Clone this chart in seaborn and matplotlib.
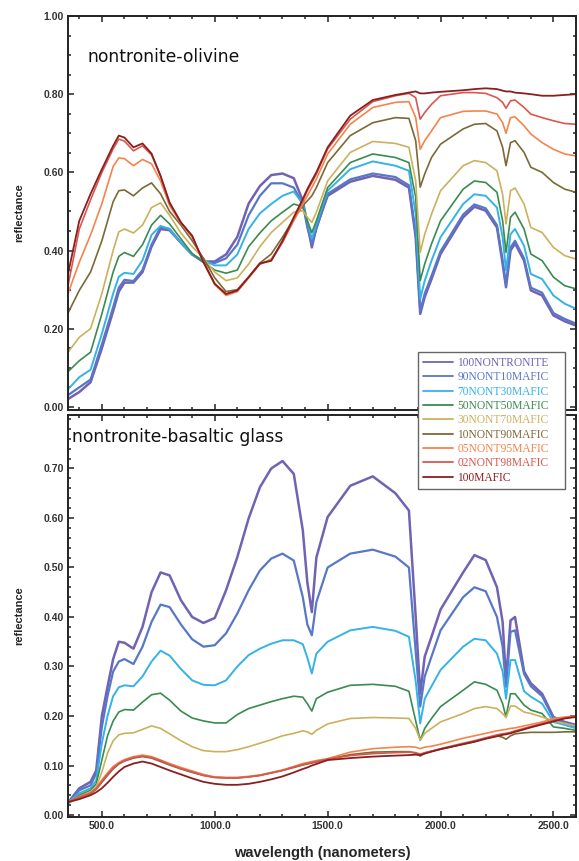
import numpy as np
import pandas as pd
import seaborn as sns
import matplotlib.pyplot as plt
from matplotlib.ticker import MultipleLocator, FormatStrFormatter

# Inputs ---------------------------------------
samples = ['100NONTRONITE', '90NONT10MAFIC', '70NONT30MAFIC', '50NONT50MAFIC',
           '30NONT70MAFIC', '10NONT90MAFIC', '05NONT95MAFIC', '02NONT98MAFIC',
           '100MAFIC']
colours = ['#7262b3', '#5877c6', '#35b2e6', '#3a8b50', '#cbb15e',
           '#7b6a36', '#f4844c', '#d9574f', '#8a1f1f']
widths = [1.8, 1.6, 1.4, 1.2, 1.2, 1.2, 1.2, 1.2, 1.3]

# nontronite-olivine panel
wl_olivine = [350, 400, 450, 500, 550, 575, 600, 640, 680, 720, 760, 800, 850, 900,
              950, 1000, 1050, 1100, 1150, 1200, 1250, 1300, 1350, 1390, 1410, 1430,
              1450, 1500, 1600, 1700, 1800, 1860, 1890, 1910, 1930, 1960, 2000, 2100,
              2150, 2200, 2250, 2275, 2290, 2310, 2330, 2370, 2400, 2450, 2500, 2550,
              2600]
olv_100nont = [0.02, 0.038, 0.063, 0.15, 0.245, 0.295, 0.318, 0.318, 0.345, 0.41,
               0.455, 0.452, 0.42, 0.39, 0.372, 0.372, 0.39, 0.435, 0.52, 0.565,
               0.593, 0.597, 0.585, 0.527, 0.468, 0.408, 0.459, 0.54, 0.576, 0.591,
               0.581, 0.561, 0.434, 0.238, 0.281, 0.327, 0.391, 0.485, 0.512, 0.502,
               0.459, 0.366, 0.306, 0.40, 0.418, 0.374, 0.298, 0.285, 0.234, 0.219,
               0.208]
olv_90nont = [0.03, 0.05, 0.07, 0.16, 0.255, 0.305, 0.325, 0.322, 0.35, 0.415,
              0.46, 0.455, 0.42, 0.39, 0.37, 0.368, 0.38, 0.415, 0.49, 0.54,
              0.572, 0.572, 0.561, 0.519, 0.459, 0.417, 0.455, 0.545, 0.582, 0.597,
              0.588, 0.567, 0.445, 0.245, 0.29, 0.335, 0.398, 0.492, 0.518, 0.508,
              0.465, 0.375, 0.312, 0.408, 0.425, 0.38, 0.305, 0.292, 0.24, 0.225,
              0.213]
olv_70nont = [0.045, 0.076, 0.095, 0.187, 0.29, 0.333, 0.343, 0.34, 0.375, 0.44,
              0.463, 0.455, 0.42, 0.39, 0.375, 0.362, 0.362, 0.39, 0.455, 0.495,
              0.519, 0.54, 0.551, 0.519, 0.476, 0.43, 0.468, 0.553, 0.608, 0.628,
              0.617, 0.604, 0.493, 0.276, 0.323, 0.374, 0.434, 0.519, 0.544, 0.54,
              0.51, 0.434, 0.349, 0.442, 0.455, 0.412, 0.34, 0.327, 0.285, 0.264,
              0.251]
olv_50nont = [0.09, 0.118, 0.14, 0.238, 0.345, 0.385, 0.395, 0.385, 0.415, 0.465,
              0.49, 0.468, 0.43, 0.392, 0.37, 0.35, 0.342, 0.35, 0.41, 0.445,
              0.476, 0.498, 0.519, 0.512, 0.476, 0.446, 0.476, 0.561, 0.625, 0.647,
              0.638, 0.625, 0.536, 0.323, 0.366, 0.417, 0.476, 0.557, 0.578, 0.574,
              0.549, 0.476, 0.395, 0.485, 0.498, 0.455, 0.391, 0.374, 0.332, 0.31,
              0.302]
olv_30nont = [0.14, 0.178, 0.20, 0.29, 0.40, 0.448, 0.455, 0.445, 0.465, 0.51,
              0.522, 0.49, 0.445, 0.41, 0.38, 0.345, 0.323, 0.33, 0.365, 0.41,
              0.446, 0.472, 0.498, 0.502, 0.485, 0.472, 0.498, 0.578, 0.651, 0.679,
              0.674, 0.664, 0.578, 0.395, 0.442, 0.493, 0.553, 0.617, 0.63, 0.625,
              0.604, 0.544, 0.468, 0.553, 0.56, 0.519, 0.459, 0.446, 0.408, 0.387,
              0.378]
olv_10nont = [0.24, 0.298, 0.345, 0.425, 0.525, 0.553, 0.555, 0.54, 0.56, 0.573,
              0.545, 0.50, 0.465, 0.425, 0.38, 0.33, 0.295, 0.30, 0.332, 0.368,
              0.391, 0.434, 0.481, 0.515, 0.527, 0.54, 0.561, 0.625, 0.694, 0.727,
              0.74, 0.738, 0.681, 0.562, 0.596, 0.638, 0.672, 0.711, 0.723, 0.725,
              0.706, 0.664, 0.617, 0.676, 0.681, 0.651, 0.613, 0.60, 0.574, 0.557,
              0.549]
olv_05nont = [0.29, 0.37, 0.44, 0.52, 0.615, 0.637, 0.635, 0.617, 0.633, 0.622,
              0.578, 0.515, 0.47, 0.435, 0.37, 0.313, 0.285, 0.295, 0.33, 0.365,
              0.378, 0.421, 0.476, 0.519, 0.54, 0.561, 0.583, 0.647, 0.723, 0.766,
              0.779, 0.781, 0.74, 0.659, 0.681, 0.706, 0.74, 0.756, 0.757, 0.757,
              0.749, 0.727, 0.70, 0.74, 0.742, 0.719, 0.698, 0.676, 0.659, 0.647,
              0.642]
olv_02nont = [0.31, 0.455, 0.53, 0.60, 0.66, 0.685, 0.68, 0.655, 0.668, 0.645,
              0.59, 0.52, 0.472, 0.436, 0.372, 0.314, 0.288, 0.297, 0.331, 0.366,
              0.374, 0.421, 0.481, 0.527, 0.553, 0.574, 0.596, 0.66, 0.736, 0.781,
              0.796, 0.802, 0.791, 0.736, 0.753, 0.774, 0.796, 0.804, 0.804, 0.802,
              0.791, 0.779, 0.764, 0.783, 0.785, 0.766, 0.749, 0.74, 0.732, 0.725,
              0.723]
olv_100mafic = [0.34, 0.476, 0.545, 0.608, 0.668, 0.694, 0.689, 0.664, 0.674, 0.648,
                0.591, 0.523, 0.472, 0.438, 0.37, 0.315, 0.289, 0.298, 0.332, 0.367,
                0.374, 0.425, 0.485, 0.532, 0.557, 0.579, 0.60, 0.664, 0.745, 0.785,
                0.798, 0.804, 0.807, 0.802, 0.802, 0.804, 0.806, 0.81, 0.813, 0.815,
                0.813, 0.809, 0.807, 0.807, 0.804, 0.802, 0.80, 0.796, 0.796, 0.798,
                0.80]

# nontronite-basaltic glass panel
wl_glass = [350, 400, 450, 475, 500, 525, 550, 575, 600, 640, 680, 720, 760, 800,
            850, 900, 950, 1000, 1050, 1100, 1150, 1200, 1250, 1300, 1350, 1390,
            1410, 1430, 1450, 1500, 1600, 1700, 1800, 1860, 1890, 1910, 1930, 1960,
            2000, 2100, 2150, 2200, 2250, 2275, 2290, 2310, 2330, 2370, 2400, 2450,
            2500, 2550, 2600]
gl_100nont = [0.025, 0.054, 0.067, 0.09, 0.2, 0.259, 0.315, 0.35, 0.348, 0.336,
              0.38, 0.45, 0.49, 0.484, 0.434, 0.40, 0.388, 0.398, 0.454, 0.521,
              0.599, 0.662, 0.70, 0.715, 0.689, 0.575, 0.47, 0.41, 0.52, 0.602,
              0.665, 0.684, 0.65, 0.615, 0.40, 0.245, 0.32, 0.36, 0.415, 0.49,
              0.525, 0.515, 0.46, 0.39, 0.272, 0.393, 0.40, 0.29, 0.266, 0.245,
              0.198, 0.188, 0.182]
gl_90nont = [0.025, 0.05, 0.06, 0.084, 0.178, 0.24, 0.29, 0.31, 0.315, 0.305,
             0.34, 0.39, 0.425, 0.42, 0.385, 0.355, 0.34, 0.343, 0.367, 0.407,
             0.454, 0.494, 0.518, 0.528, 0.514, 0.44, 0.385, 0.363, 0.43, 0.50,
             0.528, 0.536, 0.522, 0.50, 0.33, 0.219, 0.28, 0.32, 0.373, 0.44,
             0.46, 0.452, 0.40, 0.34, 0.259, 0.37, 0.373, 0.285, 0.26, 0.24,
             0.195, 0.186, 0.178]
gl_70nont = [0.025, 0.044, 0.054, 0.07, 0.145, 0.2, 0.24, 0.258, 0.262, 0.26,
             0.28, 0.31, 0.332, 0.322, 0.295, 0.272, 0.263, 0.262, 0.272, 0.30,
             0.323, 0.336, 0.346, 0.353, 0.353, 0.345, 0.318, 0.286, 0.326, 0.35,
             0.373, 0.38, 0.372, 0.36, 0.27, 0.185, 0.235, 0.26, 0.293, 0.34,
             0.356, 0.353, 0.326, 0.29, 0.235, 0.313, 0.313, 0.25, 0.239, 0.225,
             0.188, 0.182, 0.175]
gl_50nont = [0.023, 0.04, 0.05, 0.063, 0.111, 0.16, 0.19, 0.208, 0.213, 0.212,
             0.228, 0.243, 0.246, 0.232, 0.21, 0.196, 0.19, 0.186, 0.186, 0.203,
             0.215, 0.222, 0.229, 0.235, 0.24, 0.238, 0.225, 0.21, 0.235, 0.248,
             0.262, 0.264, 0.26, 0.25, 0.19, 0.151, 0.175, 0.195, 0.219, 0.252,
             0.269, 0.264, 0.252, 0.225, 0.198, 0.245, 0.245, 0.222, 0.212, 0.205,
             0.178, 0.175, 0.171]
gl_30nont = [0.023, 0.037, 0.047, 0.057, 0.087, 0.125, 0.15, 0.162, 0.165, 0.166,
             0.173, 0.18, 0.175, 0.164, 0.15, 0.138, 0.13, 0.128, 0.128, 0.132,
             0.138, 0.145, 0.152, 0.16, 0.165, 0.17, 0.168, 0.163, 0.171, 0.184,
             0.195, 0.197, 0.196, 0.195, 0.175, 0.151, 0.165, 0.175, 0.188, 0.205,
             0.215, 0.219, 0.215, 0.205, 0.197, 0.22, 0.22, 0.208, 0.205, 0.198,
             0.19, 0.185, 0.18]
gl_10nont = [0.026, 0.035, 0.043, 0.052, 0.066, 0.08, 0.093, 0.103, 0.109, 0.115,
             0.118, 0.115, 0.108, 0.101, 0.093, 0.086, 0.08, 0.076, 0.075, 0.075,
             0.077, 0.08, 0.085, 0.09, 0.096, 0.101, 0.103, 0.105, 0.107, 0.113,
             0.122, 0.127, 0.128, 0.128, 0.125, 0.119, 0.125, 0.129, 0.133, 0.143,
             0.148, 0.155, 0.16, 0.157, 0.153, 0.16, 0.164, 0.166, 0.167, 0.167,
             0.167, 0.168, 0.168]
gl_05nont = [0.027, 0.037, 0.045, 0.055, 0.071, 0.085, 0.098, 0.106, 0.112, 0.118,
             0.121, 0.118, 0.111, 0.104, 0.096, 0.089, 0.082, 0.077, 0.076, 0.076,
             0.078, 0.081, 0.086, 0.091, 0.098, 0.104, 0.106, 0.108, 0.11, 0.114,
             0.127, 0.134, 0.137, 0.138, 0.137, 0.134, 0.137, 0.139, 0.143, 0.155,
             0.16, 0.165, 0.17, 0.172, 0.173, 0.175, 0.176, 0.18, 0.183, 0.188,
             0.195, 0.198, 0.2]
gl_02nont = [0.027, 0.036, 0.044, 0.053, 0.068, 0.082, 0.095, 0.104, 0.11, 0.116,
             0.119, 0.116, 0.11, 0.102, 0.094, 0.087, 0.08, 0.076, 0.075, 0.075,
             0.077, 0.08, 0.085, 0.09, 0.097, 0.102, 0.104, 0.106, 0.108, 0.113,
             0.12, 0.124, 0.126, 0.127, 0.126, 0.123, 0.126, 0.129, 0.134, 0.145,
             0.15, 0.156, 0.162, 0.164, 0.165, 0.167, 0.17, 0.175, 0.179, 0.185,
             0.191, 0.196, 0.199]
gl_100mafic = [0.026, 0.032, 0.04, 0.046, 0.054, 0.065, 0.077, 0.088, 0.097, 0.104,
               0.108, 0.104, 0.097, 0.09, 0.082, 0.074, 0.067, 0.063, 0.061, 0.061,
               0.063, 0.067, 0.072, 0.078, 0.086, 0.093, 0.096, 0.10, 0.103, 0.111,
               0.115, 0.118, 0.12, 0.121, 0.122, 0.121, 0.124, 0.128, 0.133, 0.143,
               0.148, 0.154, 0.159, 0.162, 0.163, 0.165, 0.168, 0.173, 0.177, 0.183,
               0.189, 0.195, 0.198]
# -----------------------------------------------

olivine = [olv_100nont, olv_90nont, olv_70nont, olv_50nont, olv_30nont,
           olv_10nont, olv_05nont, olv_02nont, olv_100mafic]
glass = [gl_100nont, gl_90nont, gl_70nont, gl_50nont, gl_30nont,
         gl_10nont, gl_05nont, gl_02nont, gl_100mafic]

sns.set_style('ticks')
plt.rcParams['font.family'] = ['Liberation Sans', 'DejaVu Sans']

fig = plt.figure(figsize=(5.79, 8.61), dpi=100)
W, H = 579, 861
ax1 = fig.add_axes([68 / W, 1 - 410 / H, 508 / W, 394 / H])
ax2 = fig.add_axes([68 / W, 1 - 817 / H, 508 / W, 402 / H])

for ax, wl, series in [(ax1, wl_olivine, olivine), (ax2, wl_glass, glass)]:
    for name, vals, c, lw in zip(samples, series, colours, widths):
        df = pd.DataFrame({'wavelength': wl, 'reflectance': vals})
        sns.lineplot(data=df, x='wavelength', y='reflectance', ax=ax,
                     color=c, lw=lw, label=name, estimator=None, legend=False)

ax1.set_ylim(-0.008, 1.0)
ax2.set_ylim(-0.004, 0.808)
ax1.yaxis.set_major_locator(MultipleLocator(0.2))
ax1.yaxis.set_minor_locator(MultipleLocator(0.05))
ax2.set_yticks(np.arange(0, 0.75, 0.1))
ax2.yaxis.set_minor_locator(MultipleLocator(0.02))

for ax in (ax1, ax2):
    ax.set_xlim(350, 2600)
    ax.xaxis.set_major_locator(MultipleLocator(500))
    ax.xaxis.set_minor_locator(MultipleLocator(100))
    ax.yaxis.set_major_formatter(FormatStrFormatter('%.2f'))
    ax.xaxis.set_major_formatter(FormatStrFormatter('%.1f'))
    ax.tick_params(which='both', direction='in', top=True, right=True,
                   width=1.1, colors='#222222', labelcolor='#333333')
    ax.tick_params(which='major', length=4.5, labelsize=7.5, pad=3)
    ax.tick_params(which='minor', length=2.5)
    for lab in ax.get_xticklabels() + ax.get_yticklabels():
        lab.set_fontweight('bold')
    for sp in ax.spines.values():
        sp.set_linewidth(1.4)
        sp.set_color('#222222')
    ax.set_ylabel('reflectance', fontsize=8, fontweight='bold', labelpad=14)

ax1.set_xlabel('')
ax1.tick_params(axis='x', labelbottom=False)
ax2.set_xlabel('wavelength (nanometers)', fontsize=10.5, fontweight='bold',
               labelpad=11)

ax1.text(0.039, 0.895, 'nontronite-olivine', transform=ax1.transAxes,
         fontsize=12.3, family='DejaVu Sans', va='center', ha='left', color='#111111')
ax2.text(0.008, 0.945, 'nontronite-basaltic glass', transform=ax2.transAxes,
         fontsize=12.3, family='DejaVu Sans', va='center', ha='left', color='#111111')

handles, labels = ax1.get_legend_handles_labels()
leg = fig.legend(handles, labels, loc='upper left', mode='expand',
                 bbox_to_anchor=(418 / W, 1 - 492 / H, 147 / W, 140 / H),
                 borderaxespad=0,
                 prop={'family': 'Liberation Serif', 'size': 8.3},
                 frameon=True, fancybox=False, edgecolor='#666666',
                 framealpha=1, handlelength=2.6, handletextpad=0.35,
                 labelspacing=0.2, borderpad=0.45)
leg.get_frame().set_linewidth(1.0)
for txt, c in zip(leg.get_texts(), colours):
    txt.set_color(c)
for ln in leg.get_lines():
    ln.set_linewidth(1.3)

plt.savefig('out.png', dpi=100)
